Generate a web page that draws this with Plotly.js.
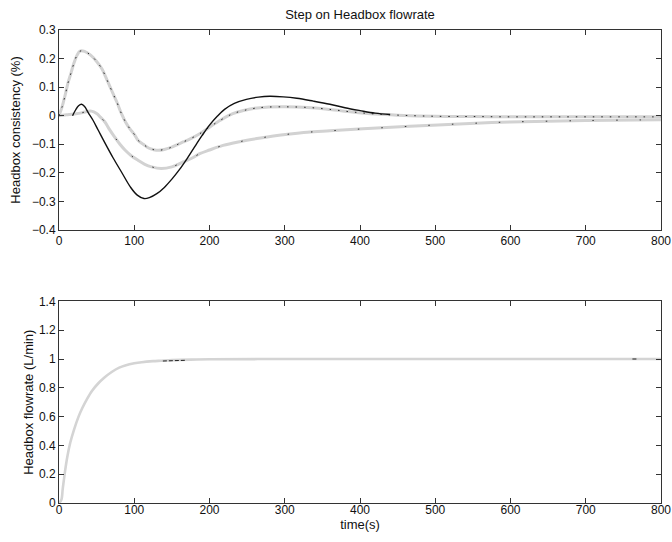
<!DOCTYPE html>
<html>
<head>
<meta charset="utf-8">
<script src="https://cdn.plot.ly/plotly-3.0.1.min.js"></script>
<style>
  html, body { margin: 0; padding: 0; background: #ffffff; }
  #chart { width: 672px; height: 542px; }
</style>
</head>
<body>
<div id="chart"></div>
<script>
// ---- Top panel: headbox consistency (%) ----
const tSolid = [18, 22, 26, 30, 34, 39, 45, 52, 61, 72, 83, 95, 104, 113, 120, 130, 140, 150, 160, 170, 180, 190, 200, 210, 220, 233, 249, 265, 280, 298, 316, 338, 360, 380, 400, 420, 440];
const consSolid = [0, 0.02, 0.035, 0.04, 0.032, 0.01, -0.015, -0.05, -0.095, -0.148, -0.197, -0.25, -0.278, -0.29, -0.287, -0.273, -0.251, -0.222, -0.189, -0.151, -0.11, -0.07, -0.033, -0.003, 0.022, 0.043, 0.057, 0.065, 0.068, 0.066, 0.061, 0.051, 0.04, 0.028, 0.018, 0.009, 0.004];

const tUpper = [0, 4, 8, 12, 16, 20, 24, 28, 34, 42, 50, 57, 63, 68, 73, 77, 83, 88, 94, 100, 105, 112, 119, 126, 132, 140, 150, 158, 165, 175, 187, 200, 215, 231, 245, 260, 275, 300, 330, 360, 390, 420, 450, 500, 550, 600, 650, 700, 750, 800];
const consUpper = [0, 0.03, 0.07, 0.115, 0.15, 0.185, 0.212, 0.226, 0.225, 0.212, 0.19, 0.164, 0.13, 0.1, 0.07, 0.047, 0.007, -0.02, -0.045, -0.065, -0.086, -0.1, -0.113, -0.119, -0.121, -0.118, -0.11, -0.1, -0.092, -0.08, -0.063, -0.04, -0.015, 0.007, 0.018, 0.026, 0.03, 0.031, 0.029, 0.022, 0.013, 0.006, 0.002, -0.002, -0.003, -0.004, -0.004, -0.004, -0.004, -0.004];

const tLower = [0, 10, 20, 30, 36, 43, 50, 55, 61, 67, 74, 81, 88, 96, 105, 114, 123, 136, 150, 165, 177, 187, 200, 218, 240, 263, 285, 307, 330, 360, 404, 466, 546, 600, 700, 800];
const consLower = [0, 0.003, 0.006, 0.01, 0.014, 0.016, 0.008, -0.005, -0.022, -0.048, -0.075, -0.1, -0.121, -0.14, -0.156, -0.17, -0.179, -0.185, -0.179, -0.162, -0.148, -0.133, -0.12, -0.104, -0.091, -0.08, -0.071, -0.064, -0.058, -0.053, -0.046, -0.037, -0.027, -0.022, -0.017, -0.014];

// ---- Bottom panel: headbox flowrate (L/min) ----
const tFlow = [0, 3, 5, 8, 11, 15, 20, 26, 31, 37, 44, 52, 60, 70, 80, 88, 100, 110, 125, 136, 150, 175, 200, 300, 400, 500, 600, 700, 800];
const flow = [0, 0.02, 0.1, 0.22, 0.32, 0.42, 0.51, 0.6, 0.66, 0.72, 0.78, 0.83, 0.87, 0.91, 0.94, 0.955, 0.97, 0.978, 0.985, 0.988, 0.992, 0.996, 0.998, 1, 1, 1, 1, 1, 1];
const tFlowRef = [138, 152, 168, null, 762, 770];
const flowRef = [0.986, 0.99, 0.991, null, 1.0, 1.0];

// ---- Ticks ----
const xTicks = [0, 100, 200, 300, 400, 500, 600, 700, 800];
const consTicks = [-0.4, -0.3, -0.2, -0.1, 0, 0.1, 0.2, 0.3];
const flowTicks = [0, 0.2, 0.4, 0.6, 0.8, 1, 1.2, 1.4];

const grey = '#d2d2d2';
const ink = '#111111';
const fontFam = 'Liberation Sans, Arial, Helvetica, sans-serif';

const traces = [
  { x: tLower, y: consLower, xaxis: 'x', yaxis: 'y', mode: 'lines', line: { color: grey, width: 3, shape: 'spline' }, hoverinfo: 'skip' },
  { x: tLower, y: consLower, xaxis: 'x', yaxis: 'y', mode: 'lines', line: { color: '#333333', width: 1, dash: '1.5px,22px', shape: 'spline' }, hoverinfo: 'skip' },
  { x: tUpper, y: consUpper, xaxis: 'x', yaxis: 'y', mode: 'lines', line: { color: grey, width: 3, shape: 'spline' }, hoverinfo: 'skip' },
  { x: tUpper, y: consUpper, xaxis: 'x', yaxis: 'y', mode: 'lines', line: { color: '#222222', width: 1, dash: '1.5px,7px', shape: 'spline' }, hoverinfo: 'skip' },
  { x: tSolid, y: consSolid, xaxis: 'x', yaxis: 'y', mode: 'lines', line: { color: '#111111', width: 1.4, shape: 'spline' }, hoverinfo: 'skip' },
  { x: tFlow, y: flow, xaxis: 'x2', yaxis: 'y2', mode: 'lines', line: { color: '#d4d4d4', width: 2.6, shape: 'spline' }, hoverinfo: 'skip' },
  { x: tFlowRef, y: flowRef, xaxis: 'x2', yaxis: 'y2', mode: 'lines', line: { color: '#222222', width: 1, dash: '4px,2px' }, connectgaps: false, hoverinfo: 'skip' }
];

const axisCommon = {
  showgrid: false, zeroline: false,
  showline: true, linecolor: '#333333', linewidth: 1,
  mirror: 'allticks', ticks: 'inside', ticklen: 5, tickcolor: '#333333', tickwidth: 1,
  tickfont: { family: fontFam, size: 12, color: ink },
  tickmode: 'array'
};

const layout = {
  width: 672, height: 542,
  paper_bgcolor: '#ffffff', plot_bgcolor: '#ffffff',
  showlegend: false,
  margin: { l: 59, r: 11, t: 30, b: 39 },
  title: { text: 'Step on Headbox flowrate', font: { family: fontFam, size: 13, color: ink }, x: 0.5, xref: 'paper', y: 1 - 14 / 542, yref: 'container', yanchor: 'middle' },
  xaxis: Object.assign({}, axisCommon, { domain: [0, 1], anchor: 'y', range: [0, 800], tickvals: xTicks }),
  yaxis: Object.assign({}, axisCommon, { domain: [0.5772, 1], anchor: 'x', range: [-0.4, 0.3], tickvals: consTicks,
    title: { text: 'Headbox consistency (%)', font: { family: fontFam, size: 13, color: ink }, standoff: 8 } }),
  xaxis2: Object.assign({}, axisCommon, { domain: [0, 1], anchor: 'y2', range: [0, 800], tickvals: xTicks, ticklabelstandoff: -4,
    title: { text: 'time(s)', font: { family: fontFam, size: 13, color: ink }, standoff: 0 } }),
  yaxis2: Object.assign({}, axisCommon, { domain: [0, 0.4262], anchor: 'x2', range: [0, 1.4], tickvals: flowTicks,
    title: { text: 'Headbox flowrate (L/min)', font: { family: fontFam, size: 13, color: ink }, standoff: 2 } })
};

Plotly.newPlot('chart', traces, layout, { staticPlot: true, displayModeBar: false });
</script>
</body>
</html>
